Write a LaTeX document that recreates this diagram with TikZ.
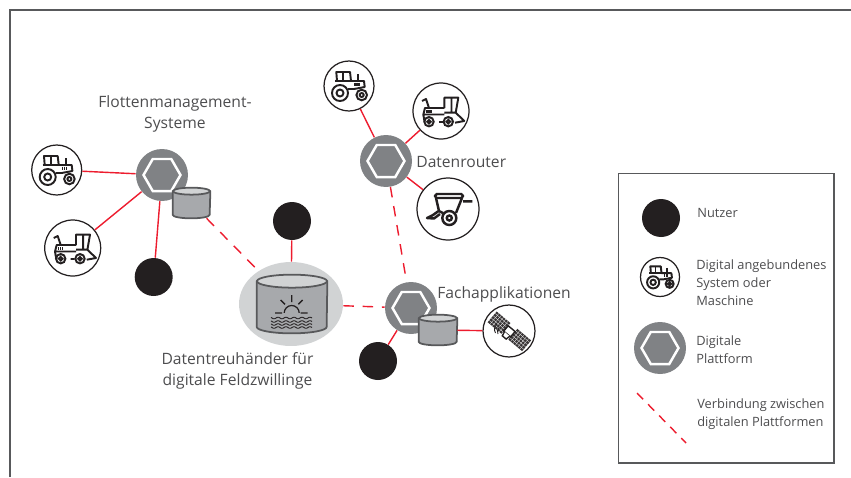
\documentclass[tikz,border=0pt]{standalone}
\usepackage{fontspec}
\setmainfont{Open Sans}
\usetikzlibrary{shapes.geometric, positioning, calc}
\definecolor{linkred}{HTML}{ED1C2E}
\definecolor{hubgray}{HTML}{808285}
\definecolor{tankgray}{HTML}{A7A9AC}
\definecolor{tanktop}{HTML}{D1D3D4}
\definecolor{tankline}{HTML}{58595B}
\definecolor{inkblack}{HTML}{231F20}
\definecolor{labelgray}{HTML}{4D4D4F}
\tikzset{
    usernode/.style={circle, fill=inkblack, minimum size=0.76cm, inner sep=0pt},
    machine/.style={circle, draw=inkblack, fill=white, line width=0.7pt, inner sep=0pt},
    hubnode/.style={circle, fill=hubgray, minimum size=1.04cm, inner sep=0pt,
        path picture={\node[regular polygon, regular polygon sides=6, draw=white, line width=1.4pt,
            minimum size=0.74cm, inner sep=0pt] at (path picture bounding box.center) {};}},
    tank/.style={rectangle, inner sep=0pt},
    tankedge/.style={draw=tankline, line width=1pt, line join=round},
    redlink/.style={draw=linkred, line width=0.8pt},
    platlink/.style={draw=linkred, line width=0.8pt, dash pattern=on 6pt off 5pt},
    plaintext/.style={text=labelgray, font=\fontsize{8.9}{12}\selectfont, inner sep=0pt},
    legendtext/.style={text=labelgray, font=\fontsize{7.3}{10.2}\selectfont, inner sep=0pt, align=left, anchor=west},
    pics/tractoricon/.style={code={
        \draw[inkblack, line width=1.1pt, line join=round]
            (-12,-5) -- (-12.7,-14) -- (1,-14) -- (2,-5) -- (15,-5) -- (15.7,1) -- (5,3) -- (-1,3);
        \draw[inkblack, line width=1pt] (-14,-5) -- (2,-5) (-6,-14) -- (-6,-5) (9,-12) -- (9,-5);
        \draw[inkblack, line width=0.6pt] (6,-3.5) -- (6,-0.5) (8,-3.5) -- (8,-0.5) (10,-3.5) -- (10,-0.5);
        \draw[inkblack, line width=1.1pt] (-9,7) circle[radius=8] (-9,7) circle[radius=3.5]
            (12.7,9) circle[radius=5.3] (12.7,9) circle[radius=2];
    }},
    pics/harvesticon/.style={code={
        \draw[inkblack, line width=1.1pt, line join=round]
            (3.3,-3) -- (3.3,-13.3) -- (17.3,-13.3) -- (14.7,1.7) -- (23.3,10) -- (14,11.7)
            (10.5,-13.3) -- (10.5,2) (14.7,1.7) -- (3.3,1.7)
            (3.3,-3) -- (-16,-3) -- (-17.7,3.5) -- (-16.5,10.5) (3.3,3.5) -- (-17.7,3.5)
            (-19,-10) -- (-15,-12) -- (-12,-3) (-2,11) -- (2,11);
        \draw[inkblack, line width=0.6pt] (-14,-1) -- (-14,1.5) (-12,-1) -- (-12,1.5) (-10,-1) -- (-10,1.5);
        \draw[inkblack, line width=1.1pt] (-12,10.7) circle[radius=4.7] (-12,10.7) circle[radius=1.8]
            (7.3,10.7) circle[radius=4.7] (7.3,10.7) circle[radius=1.8];
    }},
    pics/seedericon/.style={code={
        \draw[inkblack, line width=1.4pt, rounded corners=1pt] (-13,-15) rectangle (15,-11);
        \draw[inkblack, line width=1.4pt, line join=round]
            (-12,-11) -- (-9,2) -- (-5,4) (14,-11) -- (8,4) (15,-7.7) -- (24.3,-7.7)
            (-8,1) -- (-15,6) -- (-21,9) -- (-14,9.5) -- (-8,5);
        \draw[inkblack, line width=1.4pt] (1.3,9) circle[radius=7] (1.3,9) circle[radius=2.5];
    }},
    pics/satelliteicon/.style={code={
        \begin{scope}[rotate=-40]
            \fill[inkblack!90] (-22,-7) rectangle (-4,7) (5,-7) rectangle (23,7);
            \foreach \gx in {-19,-16,-13,-10,-7,8,11,14,17,20}
                \draw[white, line width=0.15pt] (\gx,-7) -- (\gx,7);
            \foreach \gy in {-4.5,-1.5,1.5,4.5} {
                \draw[white, line width=0.15pt] (-22,\gy) -- (-4,\gy);
                \draw[white, line width=0.15pt] (5,\gy) -- (23,\gy);
            }
            \draw[inkblack, fill=white, line width=0.8pt] (-4,-3.5) rectangle (5,3.5);
            \draw[inkblack, fill=white, line width=0.8pt] (-3,3.5) -- (-2,8) -- (3,8) -- (4,3.5);
        \end{scope}
        \draw[inkblack, line width=0.5pt] (-11,3) arc[start angle=150, end angle=230, radius=5]
            (-13.5,2) arc[start angle=150, end angle=230, radius=7];
    }},
}
% draws the can over a named tank node: name, x radius, y radius
\newcommand{\tankbody}[3]{
    \draw[tankedge, fill=tankgray] ($(#1.north west)+(0,#3)$) -- ($(#1.south west)+(0,-#3)$)
        arc[start angle=180, end angle=0, x radius=#2, y radius=#3] -- ($(#1.north east)+(0,#3)$) -- cycle;
    \draw[tankedge, fill=tanktop] ($(#1.north)+(0,#3)$) ellipse[x radius=#2, y radius=#3];
}
\begin{document}
\begin{tikzpicture}[x=0.02cm, y=-0.02cm]
    \useasboundingbox (0,0) rectangle (851,477);
    % Outer frame
    \coordinate (frameA) at (10,477);
    \coordinate (frameB) at (10,10);
    \coordinate (frameC) at (851,10);
    \draw[tankline, line width=0.7pt] (frameA) -- (frameB) -- (frameC);

    % Fleet management group
    \node[hubnode] (hubfleet) at (162,175) {};
    \node[tank, minimum width=0.74cm, minimum height=0.6cm] (tankfleet) at (191.5,203) {};
    \tankbody{tankfleet}{18.5}{3.5}
    \node[machine, minimum size=1cm] (tractorfleet) at (56.7,170) {};
    \node[machine, minimum size=1.12cm] (harvestfleet) at (72.7,248) {};
    \node[usernode] (userfleet) at (153.7,277) {};
    \pic at (tractorfleet) {tractoricon};
    \pic at (harvestfleet) {harvesticon};

    % Router group
    \node[hubnode] (hubrouter) at (386,161) {};
    \node[machine, minimum size=1cm] (tractorrouter) at (349,86) {};
    \node[machine, minimum size=1.12cm] (harvestrouter) at (441,111) {};
    \node[machine, minimum size=1.24cm] (seeder) at (448,209) {};
    \pic at (tractorrouter) {tractoricon};
    \pic at (harvestrouter) {harvesticon};
    \pic at (seeder) {seedericon};

    % Data trustee
    \node[ellipse, fill=tanktop, minimum width=2.08cm, minimum height=1.68cm, inner sep=0pt] (trustee) at (291,304) {};
    \node[tank, minimum width=1.4cm, minimum height=1.16cm] (tanktrustee) at (292,304) {};
    \tankbody{tanktrustee}{35}{6.5}
    \node[circle, draw=inkblack, line width=0.7pt, minimum size=0.3cm, inner sep=0pt] (sun) at (291.7,313) {};
    \fill[tankgray] (280,313.4) rectangle (303,321);
    \draw[inkblack, line width=0.8pt] (275,313) -- (282,313) (300.7,313) -- (307.7,313) (291.7,295) -- (291.7,302)
        (280.7,300) -- (285,304.3) (302.7,300) -- (298.4,304.3);
    \foreach \wy in {318,321.5,324.5,327.5}
        \draw[inkblack, line width=0.5pt] plot[domain=271:312, samples=50] (\x,{\wy+0.8*sin(\x*45)});
    \node[usernode] (usertrustee) at (292,221) {};

    % Applications group
    \node[hubnode] (hubapps) at (411,308) {};
    \node[tank, minimum width=0.76cm, minimum height=0.6cm] (tankapps) at (438,330) {};
    \tankbody{tankapps}{19}{3.5}
    \node[usernode] (userapps) at (378,361) {};
    \node[machine, minimum size=1.04cm] (satellite) at (509,331) {};
    \pic at (satellite) {satelliteicon};

    % Connections
    \draw[redlink] (tractorfleet) -- (hubfleet);
    \draw[redlink] (harvestfleet) -- (hubfleet);
    \draw[redlink] (userfleet) -- (hubfleet);
    \draw[redlink] (tractorrouter) -- (hubrouter);
    \draw[redlink] (harvestrouter) -- (hubrouter);
    \draw[redlink] (seeder) -- (hubrouter);
    \draw[redlink] (usertrustee) -- (trustee);
    \draw[redlink] (userapps) -- (hubapps);
    \draw[redlink] (tankapps) -- (satellite);
    \draw[platlink] (tankfleet) -- (trustee);
    \draw[platlink] (trustee) -- (hubapps);
    \draw[platlink] (hubrouter) -- (hubapps);

    % Labels
    \node[plaintext, align=center] (lblfleet) at (175,114) {Flottenmanagement-\\Systeme};
    \node[plaintext, anchor=west] (lblrouter) at (416,162) {Datenrouter};
    \node[plaintext, anchor=west] (lblapps) at (437,294) {Fachapplikationen};
    \node[plaintext, align=center] (lbltrustee) at (237.5,370.5) {Datentreuhänder für\\digitale Feldzwillinge};

    % Legend
    \node[draw=tankline, fill=white, line width=0.6pt, minimum width=4.32cm, minimum height=5.8cm, inner sep=0pt] (legend) at (726,318) {};
    \node[usernode] (keyuser) at (661,218) {};
    \node[machine, minimum size=0.78cm] (keymachine) at (660,277) {};
    \pic[scale=0.76] at (keymachine) {tractoricon};
    \node[hubnode] (keyhub) at (660,348) {};
    \coordinate (keylinkA) at (637,393);
    \coordinate (keylinkB) at (686,443);
    \draw[redlink, dash pattern=on 5pt off 4pt] (keylinkA) -- (keylinkB);
    \node[legendtext] (keyusertext) at (697,213) {Nutzer};
    \node[legendtext] (keymachinetext) at (696,283) {Digital angebundenes\\System oder\\Maschine};
    \node[legendtext] (keyhubtext) at (696,350) {Digitale\\Plattform};
    \node[legendtext] (keylinktext) at (697,414) {Verbindung zwischen\\digitalen Plattformen};
\end{tikzpicture}
\end{document}
